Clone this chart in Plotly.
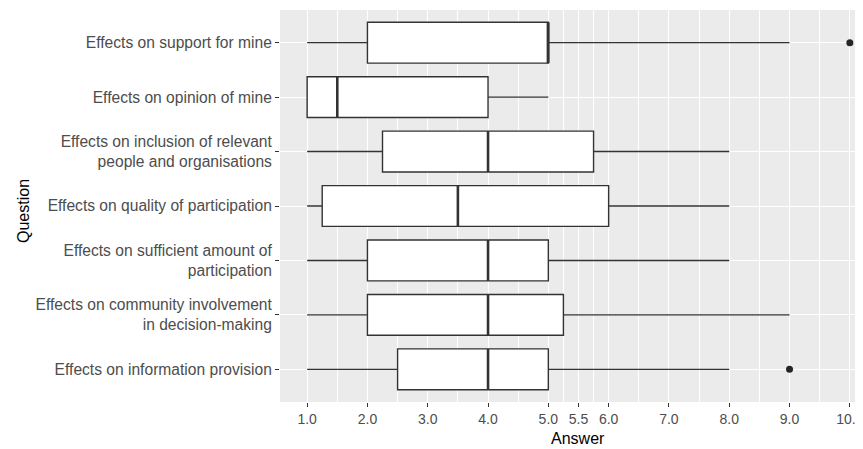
import plotly.graph_objects as go

# Categories bottom -> top
questions = [
    "Effects on information provision",
    "Effects on community involvement<br>in decision-making",
    "Effects on sufficient amount of<br>participation",
    "Effects on quality of participation",
    "Effects on inclusion of relevant<br>people and organisations",
    "Effects on opinion of mine",
    "Effects on support for mine",
]
lower = [1, 1, 1, 1, 1, 1, 1]
q1 = [2.5, 2, 2, 1.25, 2.25, 1, 2]
median = [4, 4, 4, 3.5, 4, 1.5, 5]
q3 = [5, 5.25, 5, 6, 5.75, 4, 5]
upper = [8, 9, 8, 8, 8, 5, 9]
# outliers: (question index, value)
outlier_q = [0, 6]
outlier_v = [9, 10]

tick_vals = [1, 2, 3, 4, 5, 5.5, 6, 7, 8, 9, 10]
tick_text = ["1.0", "2.0", "3.0", "4.0", "5.0", "5.5", "6.0", "7.0", "8.0", "9.0", "10.0"]
minor_vals = [1.5, 2.5, 3.5, 4.5, 5.25, 5.75, 6.5, 7.5, 8.5, 9.5]

pos = list(range(1, len(questions) + 1))
BOXW = 0.75
FONT = "Liberation Sans, Arial, sans-serif"

fig = go.Figure()
fig.add_trace(go.Box(
    y=pos, q1=q1, median=median, q3=q3,
    lowerfence=lower, upperfence=upper,
    orientation="h", width=BOXW, whiskerwidth=0,
    fillcolor="white", line=dict(color="#333333", width=1.4),
    boxpoints=False, hoverinfo="skip", showlegend=False,
))

# thicker median lines (ggplot style)
mx, my = [], []
for p, m in zip(pos, median):
    mx += [m, m, None]
    my += [p - BOXW / 2, p + BOXW / 2, None]
fig.add_trace(go.Scatter(x=mx, y=my, mode="lines",
                         line=dict(color="#333333", width=2.6),
                         hoverinfo="skip", showlegend=False))

fig.add_trace(go.Scatter(x=outlier_v, y=[pos[i] for i in outlier_q], mode="markers",
                         marker=dict(color="#262626", size=7),
                         cliponaxis=False,
                         hoverinfo="skip", showlegend=False))

# page body has an 8px margin, so the figure is offset by 8px
px_per_unit = 60.3
plot_w = 583
fig.update_layout(
    width=855, height=441,
    margin=dict(l=272, r=0, t=2, b=47, autoexpand=False),
    paper_bgcolor="white", plot_bgcolor="#EBEBEB",
    font=dict(family=FONT, size=14, color="#4D4D4D"),
    xaxis=dict(
        range=[0.55, 0.55 + plot_w / px_per_unit],
        tickmode="array", tickvals=tick_vals, ticktext=tick_text,
        ticks="outside", ticklen=4, tickwidth=1, tickcolor="#333333",
        ticklabeloverflow="allow",
        showgrid=True, gridcolor="white", gridwidth=1.2,
        minor=dict(tickmode="array", tickvals=minor_vals, showgrid=True,
                   gridcolor="white", gridwidth=0.6, ticks=""),
        zeroline=False, showline=False, automargin=False,
        tickfont=dict(size=14, color="#4D4D4D"),
    ),
    yaxis=dict(
        range=[0.4, 7.6],
        tickmode="array", tickvals=pos, ticktext=questions,
        ticks="outside", ticklen=4, tickwidth=1, tickcolor="#333333",
        showgrid=True, gridcolor="white", gridwidth=1.2,
        zeroline=False, showline=False, automargin=False,
        tickfont=dict(size=15.6, color="#4D4D4D"),
    ),
    annotations=[
        dict(text="Answer", x=5.5, xref="x", y=0, yref="paper",
             yanchor="middle", xanchor="center", yshift=-36, showarrow=False,
             font=dict(family=FONT, size=16, color="black")),
        dict(text="Question", x=(23 - 280) / plot_w, xref="paper", y=0.5, yref="paper",
             yanchor="middle", xanchor="center", yshift=-5, textangle=-90, showarrow=False,
             font=dict(family=FONT, size=16, color="black")),
    ],
)

fig.write_html("out.html")
